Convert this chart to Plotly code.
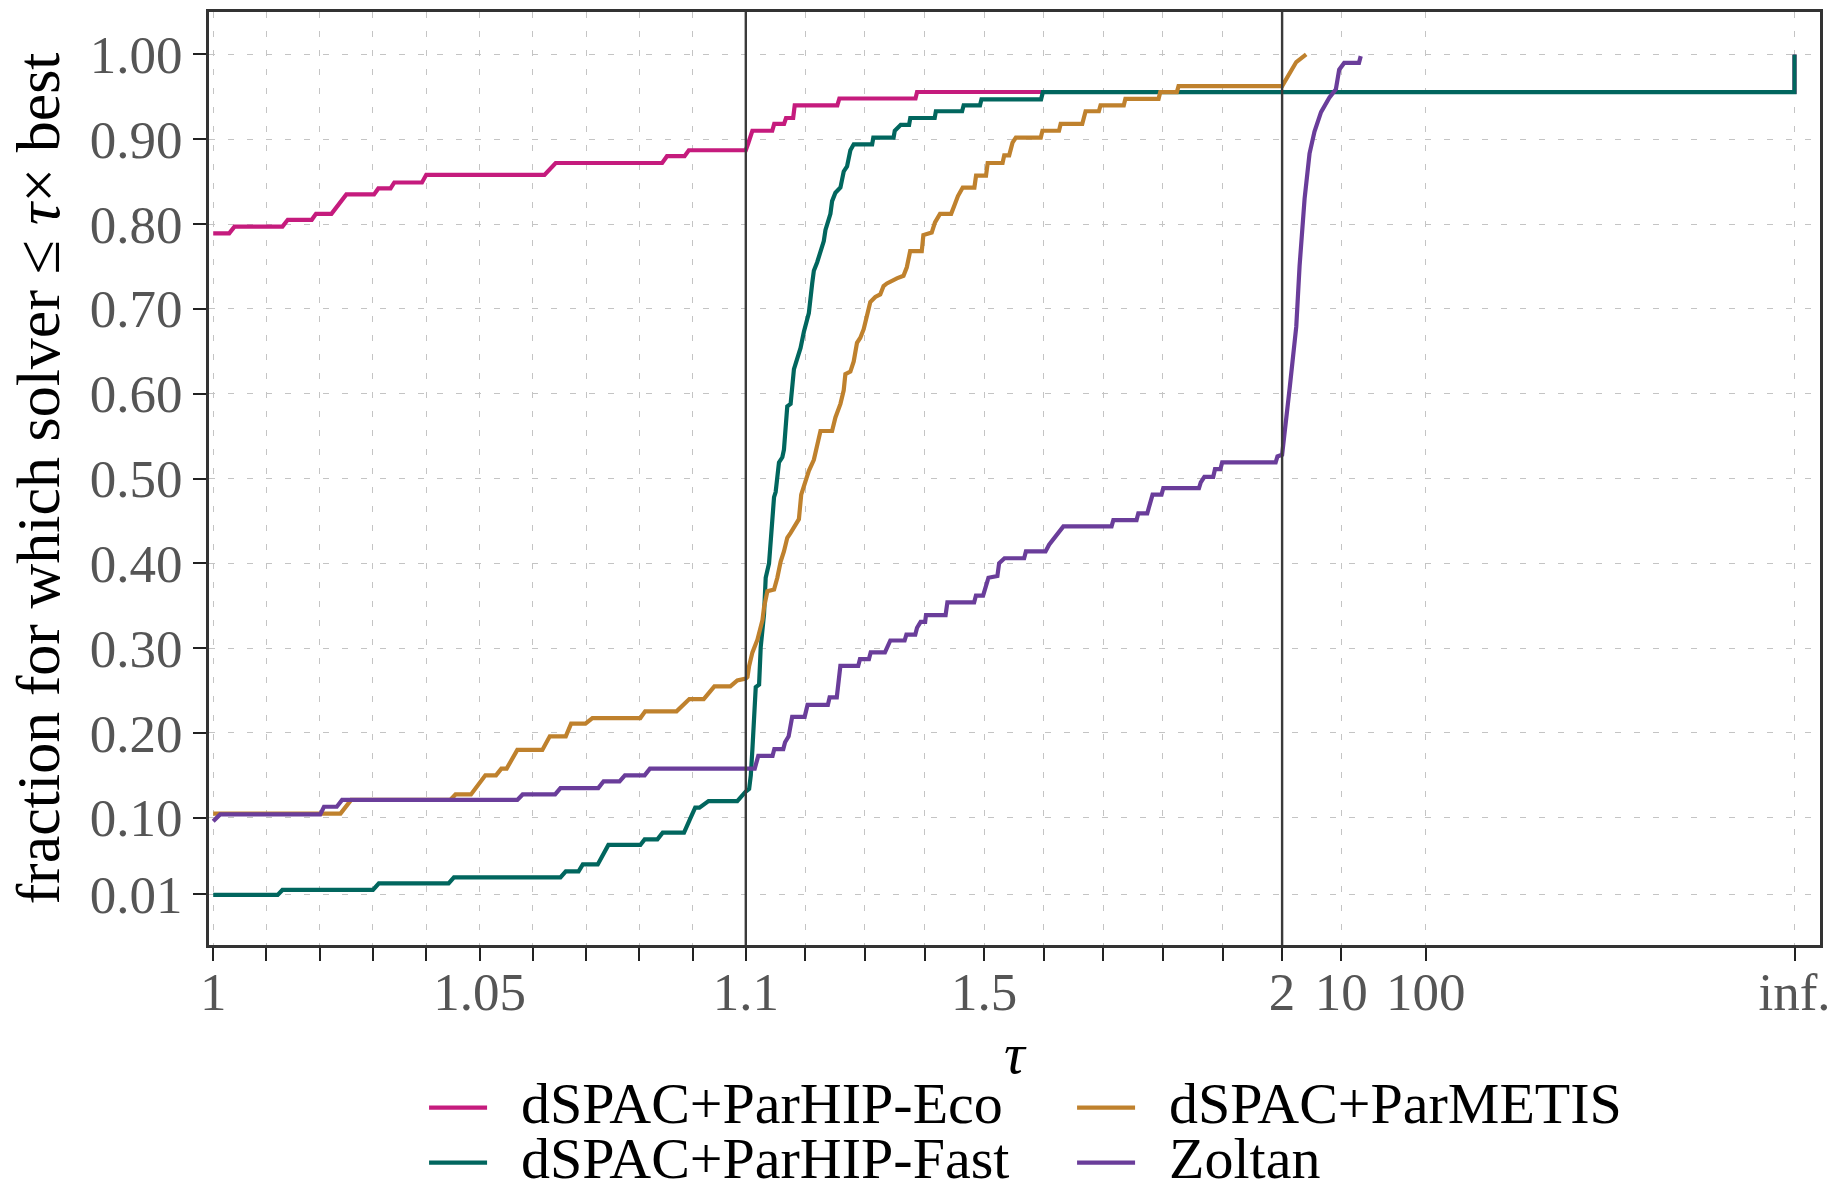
import math
import plotly.graph_objects as go

INF = float("inf")

# ---------------- data (tau, fraction) ----------------
eco_tau = [1.0, 1.0030, 1.0040, 1.0130, 1.0140, 1.0185, 1.0193, 1.0222, 1.0250, 1.0302,
           1.0310, 1.0333, 1.0340, 1.0392, 1.0400, 1.0622, 1.0643, 1.0843, 1.0852, 1.0885,
           1.0893, 1.1000, 1.1040, 1.1110, 1.1444, 1.1477, 1.1642, 1.1675, 1.1795, 1.1821,
           1.2536, 1.2570, 1.3848, 1.3874, INF, INF]
eco_frac = [0.789, 0.789, 0.797, 0.797, 0.805, 0.805, 0.812, 0.812, 0.835, 0.835,
            0.842, 0.842, 0.849, 0.849, 0.858, 0.858, 0.872, 0.872, 0.880, 0.880,
            0.887, 0.887, 0.895, 0.910, 0.910, 0.918, 0.918, 0.925, 0.925, 0.940,
            0.940, 0.948, 0.948, 0.9557, 0.9557, 1.0]

fast_tau = [1.0, 1.0121, 1.0130, 1.0300, 1.0311, 1.0442, 1.0452, 1.0652, 1.0662, 1.0686,
            1.0694, 1.0722, 1.0742, 1.0802, 1.0810, 1.0834, 1.0844, 1.0884, 1.0895, 1.0905,
            1.0913, 1.0930, 1.0984, 1.0994, 1.1000,
            1.1056, 1.1084, 1.1111, 1.1167, 1.1223, 1.1250, 1.1306, 1.1334, 1.1390, 1.1446,
            1.1474, 1.1501, 1.1557, 1.1613, 1.1640, 1.1696, 1.1752, 1.1808, 1.1864, 1.1919,
            1.1975, 1.2058, 1.2114, 1.2142, 1.2198, 1.2253, 1.2309, 1.2337, 1.2393, 1.2420,
            1.2448, 1.2504, 1.2588, 1.2643, 1.2699, 1.2755, 1.2811, 1.3120, 1.3140, 1.3480,
            1.3500, 1.3600, 1.3740, 1.3760, 1.4170, 1.4190, 1.4630, 1.4656, 1.4930, 1.4955,
            1.5955, 1.5985, INF, INF]
fast_frac = [0.009, 0.009, 0.0149, 0.0149, 0.0227, 0.0227, 0.0298, 0.0298, 0.0369, 0.0369,
             0.045, 0.045, 0.068, 0.068, 0.0745, 0.0745, 0.0824, 0.0824, 0.098, 0.112,
             0.112, 0.1196, 0.1196, 0.128, 0.131,
             0.134, 0.150, 0.181, 0.254, 0.257, 0.301, 0.340, 0.383, 0.400, 0.465,
             0.478, 0.484, 0.519, 0.525, 0.534, 0.585, 0.588, 0.629, 0.641, 0.654,
             0.673, 0.695, 0.730, 0.745, 0.755, 0.768, 0.780, 0.793, 0.805, 0.812,
             0.827, 0.837, 0.843, 0.862, 0.868, 0.887, 0.894, 0.894, 0.902, 0.902,
             0.910, 0.917, 0.917, 0.925, 0.925, 0.933, 0.933, 0.940, 0.940, 0.947,
             0.947, 0.9555, 0.9555, 1.0]

metis_tau = [1.0, 1.0239, 1.0259, 1.0445, 1.0455, 1.0484, 1.0511, 1.0531, 1.0541, 1.0551,
             1.0571, 1.0618, 1.0632, 1.0662, 1.0672, 1.0699, 1.0712, 1.0802, 1.0811, 1.0870,
             1.0894, 1.0921, 1.0941, 1.0971, 1.0984, 1.1000,
             1.1028, 1.1056, 1.1111, 1.1167, 1.1195, 1.1279, 1.1306, 1.1362, 1.1474, 1.1529,
             1.1585, 1.1640, 1.1696, 1.1752, 1.1836, 1.1891, 1.1930, 1.2003, 1.2058, 1.2142,
             1.2198, 1.2253, 1.2448, 1.2504, 1.2588, 1.2643, 1.2671, 1.2755, 1.2811, 1.2839,
             1.2866, 1.2922, 1.2978, 1.3033, 1.3089, 1.3173, 1.3256, 1.3312, 1.3368, 1.3535,
             1.3646, 1.3702, 1.3758, 1.3953, 1.3980, 1.4120, 1.4175, 1.4259, 1.4446, 1.4500,
             1.4560, 1.4640, 1.4836, 1.4864, 1.5031, 1.5059, 1.5309, 1.5337, 1.5420, 1.5476,
             1.5532, 1.5950, 1.5978, 1.6256, 1.6284, 1.6646, 1.6702, 1.6925, 1.6953, 1.7343,
             1.7370, 1.7927, 1.7955, 1.8234, 1.8262, 2.0, 2.94, 3.85]
metis_frac = [0.105, 0.105, 0.121, 0.121, 0.1275, 0.1275, 0.150, 0.150, 0.158, 0.158,
              0.180, 0.180, 0.196, 0.196, 0.211, 0.211, 0.2176, 0.2176, 0.2255, 0.2255,
              0.240, 0.240, 0.255, 0.255, 0.262, 0.264,
              0.266, 0.279, 0.295, 0.304, 0.310, 0.333, 0.348, 0.367, 0.369, 0.383,
              0.402, 0.414, 0.430, 0.436, 0.446, 0.452, 0.481, 0.496, 0.509, 0.522,
              0.541, 0.556, 0.556, 0.572, 0.588, 0.604, 0.623, 0.626, 0.638, 0.648,
              0.660, 0.666, 0.676, 0.692, 0.708, 0.714, 0.717, 0.727, 0.730, 0.736,
              0.739, 0.749, 0.768, 0.768, 0.787, 0.790, 0.802, 0.812, 0.812, 0.822,
              0.833, 0.843, 0.843, 0.857, 0.857, 0.872, 0.872, 0.881, 0.881, 0.896,
              0.902, 0.902, 0.910, 0.910, 0.918, 0.918, 0.933, 0.933, 0.940, 0.940,
              0.9476, 0.9476, 0.9555, 0.9555, 0.9626, 0.9626, 0.991, 1.0]

zoltan_tau = [1.0, 1.0013, 1.0201, 1.0208, 1.0232, 1.0242, 1.0571, 1.0581, 1.0642, 1.0652,
              1.0723, 1.0733, 1.0763, 1.0773, 1.0810, 1.0820, 1.1000,
              1.1150, 1.1209, 1.1449, 1.1479, 1.1629, 1.1659, 1.1719, 1.1778, 1.1988,
              1.2036, 1.2377, 1.2407, 1.2527, 1.2587, 1.2886, 1.2916, 1.3066, 1.3096, 1.3335,
              1.3425, 1.3665, 1.3695, 1.3844, 1.3874, 1.3934, 1.4010, 1.4024, 1.4353, 1.4383,
              1.4832, 1.4862, 1.4982, 1.5012, 1.5072, 1.5222, 1.5251, 1.5341, 1.5671, 1.5701,
              1.6030, 1.6090, 1.6180, 1.6240, 1.6329, 1.7138, 1.7168, 1.7557, 1.7587, 1.7737,
              1.7826, 1.7976, 1.8006, 1.8605, 1.8635, 1.8695, 1.8844, 1.8874, 1.8964, 1.8994,
              1.9892, 1.9922, 2.0,
              2.46, 2.94, 3.22, 3.69, 4.22, 4.83, 5.77, 7.23, 8.65, 9.46, 10.84, 16.2, 17.0]
zoltan_frac = [0.096, 0.104, 0.104, 0.113, 0.113, 0.121, 0.121, 0.1275, 0.1275, 0.135,
               0.135, 0.143, 0.143, 0.150, 0.150, 0.158, 0.158,
               0.158, 0.173, 0.173, 0.181, 0.181, 0.189, 0.196, 0.219, 0.219,
               0.233, 0.233, 0.242, 0.242, 0.279, 0.279, 0.287, 0.287, 0.295, 0.295,
               0.309, 0.309, 0.316, 0.316, 0.324, 0.331, 0.331, 0.339, 0.339, 0.354,
               0.354, 0.362, 0.362, 0.369, 0.383, 0.385, 0.400, 0.406, 0.406, 0.414,
               0.414, 0.422, 0.430, 0.436, 0.4435, 0.4435, 0.451, 0.451, 0.459, 0.459,
               0.481, 0.481, 0.4886, 0.4886, 0.4953, 0.502, 0.502, 0.511, 0.511, 0.519,
               0.519, 0.526, 0.528,
               0.607, 0.679, 0.751, 0.830, 0.883, 0.909, 0.932, 0.949, 0.959, 0.982, 0.990, 0.990, 0.998]

series_names = ["dSPAC+ParHIP-Eco", "dSPAC+ParHIP-Fast", "dSPAC+ParMETIS", "Zoltan"]
series_colors = ["#C51B7D", "#01665E", "#BF812D", "#6A3D9A"]
legend_ranks = [1, 3, 2, 4]

x_major_vals = [1, 1.05, 1.1, 1.5, 2, 10, 100, INF]
x_major_text = ["1", "1.05", "1.1", "1.5", "2", "10", "100", "inf."]
x_minor_vals = [1.01, 1.02, 1.03, 1.04, 1.06, 1.07, 1.08, 1.09,
                1.2, 1.3, 1.4, 1.6, 1.7, 1.8, 1.9]
y_tick_vals = [0.01, 0.1, 0.2, 0.3, 0.4, 0.5, 0.6, 0.7, 0.8, 0.9, 1.0]
y_tick_text = ["0.01", "0.10", "0.20", "0.30", "0.40", "0.50", "0.60", "0.70", "0.80", "0.90", "1.00"]
split_points = [1.1, 2]


# piecewise tau scale: [1,1.1] linear, [1.1,2] linear, [2,inf) logarithmic, inf at the end
def tx(t):
    if math.isinf(t):
        return 1581.3
    if t <= 1.1:
        return (t - 1.0) * 5326.0
    if t <= 2.0:
        return 532.6 + (t - 1.1) * 595.9
    return 1068.9 + 84.6 * math.log10(t / 2.0)


FONT = "Liberation Serif"
fig = go.Figure()
for name, color, rank, taus, fr in zip(
        series_names, series_colors, legend_ranks,
        [eco_tau, fast_tau, metis_tau, zoltan_tau],
        [eco_frac, fast_frac, metis_frac, zoltan_frac]):
    fig.add_trace(go.Scatter(
        x=[tx(t) for t in taus], y=fr, mode="lines",
        name='<span style="font-size:58px">\u00a0\u00a0' + name + '</span>',
        line=dict(color=color, width=4.2), legendrank=rank,
    ))

for s in split_points:
    fig.add_shape(type="line", x0=tx(s), x1=tx(s), y0=0, y1=1, xref="x", yref="paper",
                  line=dict(color="#3a3a3a", width=2.4), layer="above")

all_x = sorted(x_major_vals + x_minor_vals, key=tx)
labels = {v: t for v, t in zip(x_major_vals, x_major_text)}
fig.update_xaxes(
    range=[-4.2, 1606.8], tickmode="array",
    tickvals=[tx(v) for v in all_x], ticktext=[labels.get(v, "") for v in all_x],
    ticks="outside", ticklen=13, tickwidth=2.4, tickcolor="#222",
    ticklabelstandoff=-14,
    showgrid=True, gridcolor="#c4c4c4", gridwidth=1.4, griddash="6px,13px",
    showline=True, linecolor="#333", linewidth=2.6, mirror=True, zeroline=False,
    tickfont=dict(family=FONT, size=53, color="#555555"),
    title=dict(text="<i>τ</i>", font=dict(family=FONT, size=58, color="black"), standoff=0),
)
fig.update_yaxes(
    range=[-0.05, 1.05], tickmode="array", tickvals=y_tick_vals, ticktext=y_tick_text,
    ticks="outside", ticklen=13, tickwidth=2.4, tickcolor="#222",
    showgrid=True, gridcolor="#c4c4c4", gridwidth=1.4, griddash="6px,13px",
    showline=True, linecolor="#333", linewidth=2.6, mirror=True, zeroline=False,
    tickfont=dict(family=FONT, size=53, color="#555555"),
    title=dict(text="fraction for which solver ≤ <i>τ</i>× best",
               font=dict(family=FONT, size=62, color="black"), standoff=11),
)
fig.update_layout(
    width=1841, height=1182,
    margin=dict(l=209, r=21, t=12, b=237, autoexpand=False),
    plot_bgcolor="white", paper_bgcolor="white",
    font=dict(family=FONT),
    legend=dict(orientation="h", x=0.1335, y=-0.1395, xanchor="left", yanchor="top",
                entrywidth=575, entrywidthmode="pixels", itemwidth=58,
                font=dict(family=FONT, size=40, color="black"),
                traceorder="normal", bgcolor="rgba(0,0,0,0)"),
    showlegend=True,
)
fig.write_html("out.html")
